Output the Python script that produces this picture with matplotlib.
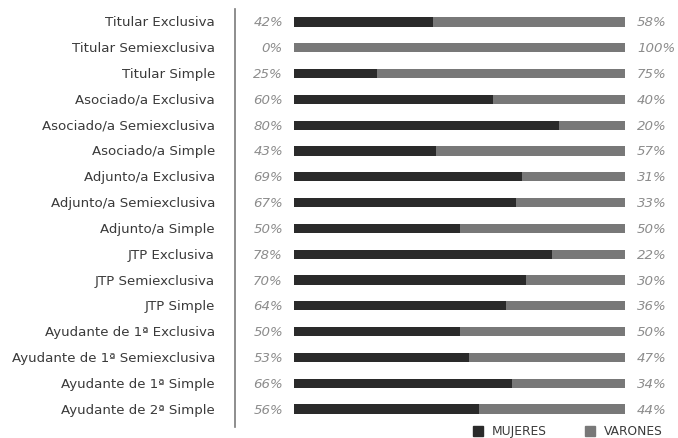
import matplotlib
matplotlib.use("Agg")
import matplotlib.pyplot as plt
from matplotlib.transforms import blended_transform_factory
from matplotlib.patches import Rectangle

categories = [
    "Titular Exclusiva", "Titular Semiexclusiva", "Titular Simple",
    "Asociado/a Exclusiva", "Asociado/a Semiexclusiva", "Asociado/a Simple",
    "Adjunto/a Exclusiva", "Adjunto/a Semiexclusiva", "Adjunto/a Simple",
    "JTP Exclusiva", "JTP Semiexclusiva", "JTP Simple",
    "Ayudante de 1ª Exclusiva", "Ayudante de 1ª Semiexclusiva",
    "Ayudante de 1ª Simple", "Ayudante de 2ª Simple",
]
mujeres = [42, 0, 25, 60, 80, 43, 69, 67, 50, 78, 70, 64, 50, 53, 66, 56]
varones = [58, 100, 75, 40, 20, 57, 31, 33, 50, 22, 30, 36, 50, 47, 34, 44]
series_names = ["MUJERES", "VARONES"]

c_muj = "#2a2a2a"
c_var = "#787878"

W, H = 678, 439
fig = plt.figure(figsize=(W / 100, H / 100), dpi=100)
fig.patch.set_facecolor("white")

ax = fig.add_axes([294 / W, (H - 423) / H, (625 - 294) / W, 413 / H])
ys = list(range(len(categories)))
ax.barh(ys, mujeres, height=0.36, color=c_muj, edgecolor="none")
ax.barh(ys, varones, left=mujeres, height=0.36, color=c_var, edgecolor="none")
ax.set_xlim(0, 100)
ax.set_ylim(len(categories) - 0.5, -0.5)
ax.axis("off")

tr = blended_transform_factory(fig.transFigure, ax.transData)
for y, cat, m, v in zip(ys, categories, mujeres, varones):
    fig.text(215 / W, 0, cat, transform=tr, ha="right", va="center",
             fontsize=9.6, color="#3a3a3a").set_y(y)
    fig.text(283 / W, 0, f"{m}%", transform=tr, ha="right", va="center",
             fontsize=9.6, color="#8c8c8c", style="italic").set_y(y)
    fig.text(637 / W, 0, f"{v}%", transform=tr, ha="left", va="center",
             fontsize=9.6, color="#8c8c8c", style="italic").set_y(y)

# vertical separator
fig.add_artist(plt.Line2D([235 / W, 235 / W], [(H - 428) / H, (H - 10) / H],
                          color="#7a7a7a", lw=1.2, transform=fig.transFigure))

# legend
for x0, name, col in [(473, series_names[0], c_muj), (585, series_names[1], c_var)]:
    fig.add_artist(Rectangle((x0 / W, (H - 437) / H), 10 / W, 10 / H,
                             color=col, transform=fig.transFigure))
    fig.text((x0 + 19) / W, (H - 432) / H, name, ha="left", va="center",
             fontsize=8.8, color="#3a3a3a")

fig.savefig("out.png", dpi=100)
